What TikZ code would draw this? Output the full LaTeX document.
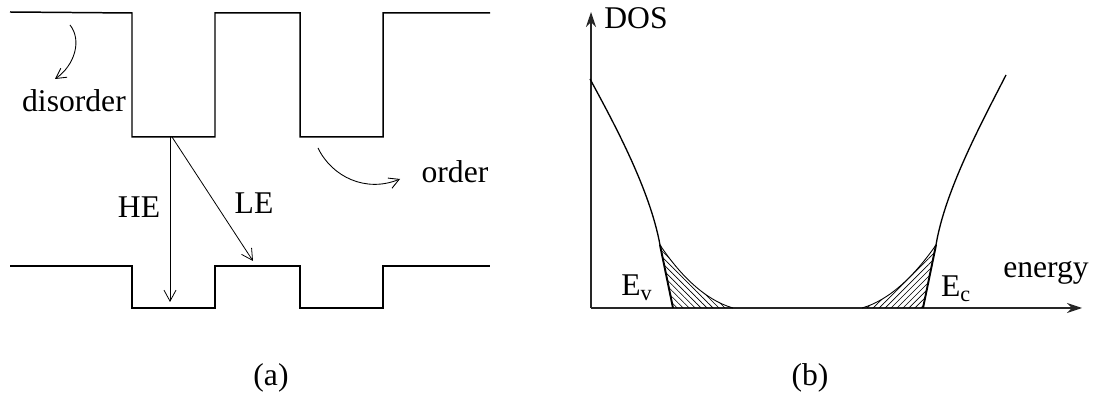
\documentclass[tikz,border=0pt]{standalone}
\usepackage{fontspec}
\setmainfont{Liberation Serif}
\usepackage{xcolor}
\definecolor{cLine}{HTML}{000000}
\definecolor{cAxis}{HTML}{262626}
\usetikzlibrary{arrows.meta,patterns.meta}
\tikzset{
  node-label/.style={inner sep=0pt,font=\fontsize{18}{21}\selectfont},
  band-line/.style={draw=cLine,line width=0.85pt},
  arrow/.style={-{Straight Barb[length=2.2mm,width=2.4mm]},line width=0.45pt,draw=cLine},
  arrow-curve/.style={-{Straight Barb[length=2mm,width=2.2mm]},line width=0.5pt,draw=cLine},
  axis/.style={-{Stealth[length=3mm,width=2mm]},line width=0.8pt,draw=cAxis},
  dos-curve/.style={line width=0.75pt,draw=cLine},
  tail-curve/.style={line width=0.5pt,draw=cLine},
  edge-line/.style={line width=1.1pt,draw=cLine},
  % v-band hatch "\\", c-band hatch "//"
  hatch-v/.style={pattern={Lines[angle=-45,distance=2.4pt,line width=0.35pt]}},
  hatch-c/.style={pattern={Lines[angle=45,distance=2.4pt,line width=0.35pt]}},
}
\begin{document}
\begin{tikzpicture}[x=0.02cm,y=-0.02cm]
  \useasboundingbox (0,0) rectangle (1095,394);

  % (a) disordered / ordered wells
  \draw[band-line] (10,12) -- (132,13) -- (132,137) -- (215,137) -- (215,13)
    -- (300,13) -- (300,137) -- (383,137) -- (383,13) -- (490,13);
  \draw[band-line] (10,266) -- (132,266) -- (132,308) -- (215,308) -- (215,266)
    -- (300,266) -- (300,308) -- (383,308) -- (383,266) -- (490,266);

  \coordinate (he-top) at (170,137);
  \coordinate (he-bot) at (170,302);
  \coordinate (le-top) at (172,137);
  \coordinate (le-bot) at (253,261);
  \draw[arrow] (he-top) -- (he-bot);
  \draw[arrow] (le-top) -- (le-bot);
  \node[node-label] (he) at (139,207) {HE};
  \node[node-label] (le) at (254,203) {LE};

  \node[node-label] (disorder) at (74,101) {disorder};
  \node[node-label] (order) at (455,172) {order};
  \coordinate (dis-start) at (70,25);
  \coordinate (dis-end) at (55,79);
  \draw[arrow-curve] (dis-start) .. controls (82,40) and (75,65) .. (dis-end);
  \coordinate (ord-start) at (318,148);
  \coordinate (ord-end) at (400,179);
  \draw[arrow-curve] (ord-start) .. controls (332,177) and (366,193) .. (ord-end);

  \node[node-label] (cap-a) at (271,378) {(a)};

  % (b) density of states
  \coordinate (origin) at (591,308);
  \coordinate (dos-top) at (591,12);
  \coordinate (en-end) at (1082,308);
  \draw[axis] (origin) -- (dos-top);
  \draw[axis] (origin) -- (en-end);
  \node[node-label] (dos) at (636,18) {DOS};
  \node[node-label] (energy) at (1046,273) {energy};

  \fill[hatch-v] (660,245) -- (673,308) -- (733,308)
    .. controls (705,300) and (680,275) .. (660,245);
  \fill[hatch-c] (936,245) -- (923,308) -- (862,308)
    .. controls (890,300) and (915,275) .. (936,245);

  \draw[dos-curve] (590,79) .. controls (615,125) and (650,190) .. (660,245);
  \draw[edge-line] (660,245) -- (673,308);
  \draw[tail-curve] (660,245) .. controls (680,275) and (705,300) .. (733,308);
  \draw[dos-curve] (1006,75) .. controls (983,120) and (945,190) .. (936,245);
  \draw[edge-line] (936,245) -- (923,308);
  \draw[tail-curve] (936,245) .. controls (915,275) and (890,300) .. (862,308);

  \node[node-label] (ev) at (637,288) {E\textsubscript{v}};
  \node[node-label] (ec) at (956,289) {E\textsubscript{c}};

  \node[node-label] (cap-b) at (810,378) {(b)};
\end{tikzpicture}
\end{document}
